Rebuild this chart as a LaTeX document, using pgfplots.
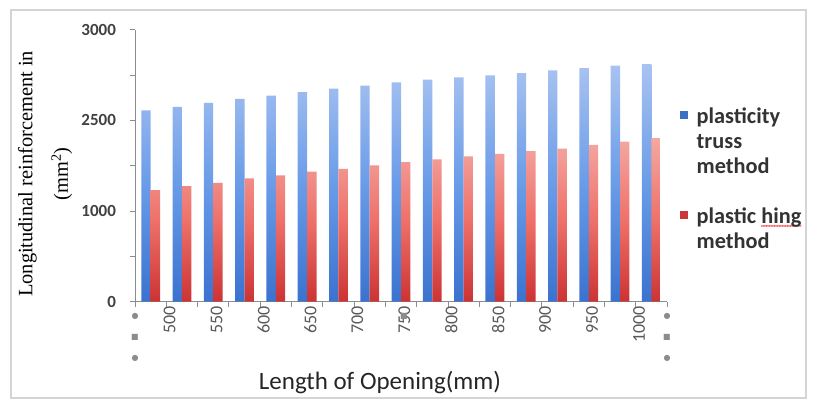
\documentclass[border=0pt]{standalone}
\usepackage{pgfplots}
\pgfplotsset{compat=1.18}
\usepackage{fontspec}
\setmainfont{Carlito}
\newfontfamily\serifface{Liberation Serif}
\newfontfamily\symface{DejaVu Sans}
% red spell-check style wavy underline, built from repeated tildes
\newcommand{\redwave}[1]{\setbox0\hbox{#1}\rlap{\color{red}\raisebox{-3.4pt}[0pt][0pt]{\hbox to \wd0{\fontsize{5.5}{5.5}\selectfont\xleaders\hbox{\kern-0.4pt\char"7E\kern-0.4pt}\hfil}}}#1}

\definecolor{blueTop}{HTML}{A9C3F1}
\definecolor{blueMid}{HTML}{6A9CE8}
\definecolor{blueBot}{HTML}{3A72CF}
\definecolor{blueKey}{HTML}{3C6FC6}
\definecolor{redTop}{HTML}{F4A8A2}
\definecolor{redMid}{HTML}{EE716A}
\definecolor{redBot}{HTML}{CC3333}
\definecolor{redKey}{HTML}{C9373B}
\definecolor{axisgray}{HTML}{8C8C8C}
\definecolor{framegray}{HTML}{D4D4D4}
\definecolor{ticktext}{HTML}{404040}
\definecolor{xticktext}{HTML}{595959}
\definecolor{labeltext}{HTML}{262626}
\definecolor{legendtext}{HTML}{333333}

% reinforcement per opening length (17 categories)
\pgfplotstableread{
idx truss hinge
0  2110 1232
1  2148 1276
2  2192 1312
3  2236 1360
4  2273 1393
5  2313 1434
6  2350 1466
7  2383 1503
8  2420 1540
9  2449 1569
10 2475 1602
11 2497 1631
12 2522 1661
13 2551 1690
14 2577 1730
15 2603 1767
16 2622 1805
}\datatable

\tikzset{glyph/.style={font=\symface\fontsize{6}{6}\selectfont, text=axisgray, inner sep=0pt}}

\begin{document}
\begin{tikzpicture}
\path[use as bounding box] (-101.25pt,-80.5pt) rectangle (511.5pt,226.3pt);
\draw[framegray, line width=1.2pt] (-93pt,-72.2pt) rectangle (503.25pt,218.8pt);
\begin{axis}[
  at={(0pt,0pt)}, anchor=south west,
  scale only axis, width=399pt, height=204pt,
  xmin=-0.5, xmax=16.5, ymin=0, ymax=3000,
  axis x line*=bottom, axis y line*=left,
  axis line style={draw=axisgray, line width=0.7pt, -},
  tick align=outside, major tick length=3.75pt,
  tick style={draw=axisgray, line width=0.6pt},
  ytick={0,500,...,3000},
  yticklabels={0,,1000,,2500,,3000},
  yticklabel style={font=\bfseries\fontsize{12.75}{14}\selectfont, text=ticktext, xshift=-7pt},
  xtick={-0.5,0.5,...,16.5}, xticklabels={},
  extra x ticks={0,1.5,3,4.5,6,7.5,9,10.5,12,13.5,15},
  extra x tick labels={500,550,600,650,700,750,800,850,900,950,1000},
  extra x tick style={major tick length=0pt,
    xticklabel style={rotate=90, anchor=east, yshift=-14.25pt,
      font=\fontsize{13.5}{14}\selectfont, text=xticktext}},
  bar width=0.3,
  xlabel={Length of Opening(mm)},
  xlabel style={at={(axis description cs:0.4605,0)}, anchor=base, yshift=-66pt,
    font=\fontsize{18.75}{22}\selectfont, text=labeltext},
  ylabel={Longitudinal reinforcement in\\[10pt](mm\textsuperscript{2})},
  ylabel style={at={(axis description cs:-0.169,0.47)}, anchor=center, rotate=0,
    align=center, font=\serifface\fontsize{15.3}{15.3}\selectfont, text=black},
  legend style={draw=none, fill=none, at={(axis description cs:1.0237,0.724)},
    anchor=north west, font=\bfseries\fontsize{16.75}{18.75}\selectfont, text=legendtext,
    cells={anchor=west, align=left}, row sep=20.25pt, inner sep=0pt,
    /tikz/every odd column/.append style={column sep=5pt}},
  legend cell align=left,
  clip=false,
]
\addplot[ybar, bar shift=-0.15, draw=none, top color=blueTop, bottom color=blueBot, middle color=blueMid, forget plot]
  table[x=idx, y=truss] {\datatable};
\addplot[ybar, bar shift=0.15, draw=none, top color=redTop, bottom color=redBot, middle color=redMid, forget plot]
  table[x=idx, y=hinge] {\datatable};

% keys sit beside the first line of each multi-line entry
\addlegendimage{legend image code/.code={\fill[blueKey] (0pt,17.65pt) rectangle (5.2pt,22.85pt);}}
\addlegendentry{plasticity\\truss\\method}
\addlegendimage{legend image code/.code={\fill[redKey] (0pt,8.3pt) rectangle (5.2pt,13.5pt);}}
\addlegendentry{plastic \redwave{hing}\\method}

% stray category-axis glyphs at both ends of the axis
\node[glyph] at (rel axis cs:0,0) [yshift=-11pt] {●};
\node[glyph] at (rel axis cs:0,0) [yshift=-27pt] {■};
\node[glyph] at (rel axis cs:0,0) [yshift=-42.5pt] {●};
\node[glyph] at (rel axis cs:1,0) [yshift=-11pt] {●};
\node[glyph] at (rel axis cs:1,0) [yshift=-27pt] {■};
\node[glyph] at (rel axis cs:1,0) [yshift=-42.5pt] {●};
\node[glyph] at (rel axis cs:0.5056,0) [yshift=-11pt] {■};
\end{axis}
\end{tikzpicture}
\end{document}
